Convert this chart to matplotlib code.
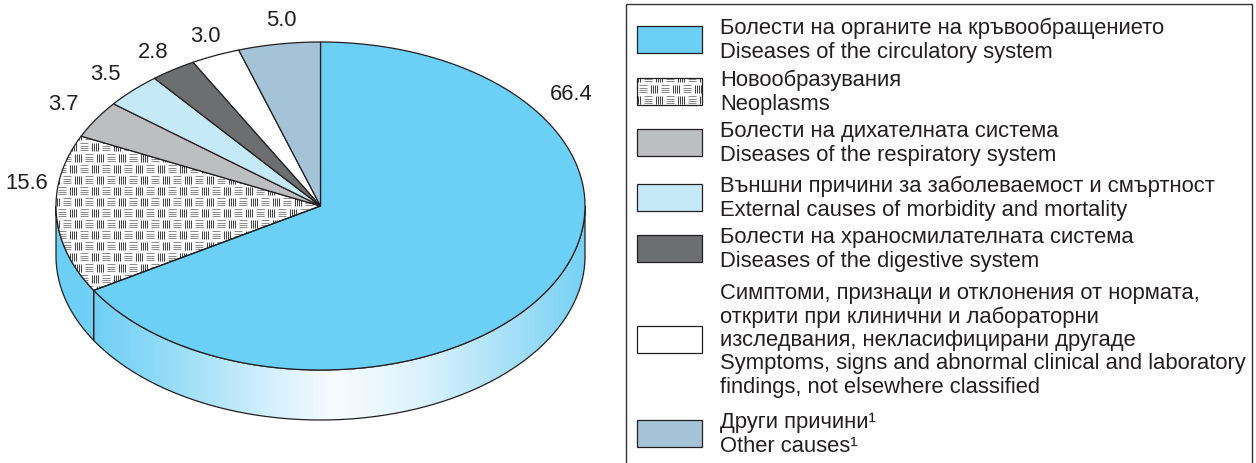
import numpy as np
import matplotlib
matplotlib.use('Agg')
import matplotlib.pyplot as plt
from matplotlib.patches import Polygon, Rectangle
from matplotlib.collections import LineCollection
from matplotlib.colors import LinearSegmentedColormap

# ---------------- data ----------------
values = [66.4, 15.6, 3.7, 3.5, 2.8, 3.0, 5.0]
value_labels = ['66.4', '15.6', '3.7', '3.5', '2.8', '3.0', '5.0']
legend_bg = [
    "Болести на органите на кръвообращението",
    "Новообразувания",
    "Болести на дихателната система",
    "Външни причини за заболеваемост и смъртност",
    "Болести на храносмилателната система",
    "Симптоми, признаци и отклонения от нормата,\nоткрити при клинични и лабораторни\nизследвания, некласифицирани другаде",
    "Други причини¹",
]
legend_en = [
    "Diseases of the circulatory system",
    "Neoplasms",
    "Diseases of the respiratory system",
    "External causes of morbidity and mortality",
    "Diseases of the digestive system",
    "Symptoms, signs and abnormal clinical and laboratory\nfindings, not elsewhere classified",
    "Other causes¹",
]
slice_colors = ['#6CCFF6', 'hatch', '#BCBEC0', '#C6E9F8', '#6D6E70', '#FFFFFF', '#A5C3D6']

# ---------------- layout / style ----------------
W, H = 1256, 464
CX, CY, RX, RY, DEPTH = 320.5, 207.0, 264.5, 164.0, 50.0
START = 90.0
EDGE = '#231F20'
TXT = '#231F20'
FONT = 'Liberation Sans'
FS = 15.8
label_pos = [(571, 95), (27, 184), (63, 104), (105, 74), (153, 52), (205, 37), (281, 21)]

fig = plt.figure(figsize=(W / 100, H / 100), dpi=100)
ax = fig.add_axes([0, 0, 1, 1])
ax.set_xlim(0, W)
ax.set_ylim(H, 0)
ax.axis('off')


def ell(t, dy=0.0):
    t = np.radians(t)
    return np.column_stack([CX + RX * np.cos(t), CY - RY * np.sin(t) + dy])


def hatch_fill(clip_patch, x0, y0, x1, y1, z, cell=11.0):
    hl, vl = [], []
    r = 0
    y = y0 - cell
    while y < y1 + cell:
        off = (r % 2) * cell / 2
        c = 0
        x = x0 - 2 * cell + off
        while x < x1 + cell:
            gx, gy = x + 1.5, y + 1.8
            if c % 2 == 0:
                for k in range(4):
                    yy = gy + 0.6 + k * 2.1
                    hl.append([(gx, yy), (gx + 8.0, yy)])
            else:
                for k in range(4):
                    xx = gx + 1.0 + k * 2.1
                    vl.append([(xx, gy), (xx, gy + 7.8)])
            x += cell
            c += 1
        y += cell
        r += 1
    lc1 = LineCollection(hl, colors='#8E8E8E', linewidths=0.75, zorder=z)
    lc2 = LineCollection(vl, colors='#454545', linewidths=0.75, zorder=z)
    for lc in (lc1, lc2):
        ax.add_collection(lc)
        lc.set_clip_path(clip_patch)


# slice angles (clockwise from the top)
cum = np.concatenate([[0], np.cumsum(values)])
total = cum[-1]
starts = START - 360.0 * cum[:-1] / total
ends = START - 360.0 * cum[1:] / total

# ---------------- side wall ----------------
side_stops = [(56, '#6CCFF6'), (93, '#70D0F6'), (150, '#8AD8F7'), (230, '#BCE8FA'),
              (335, '#F8FCFF'), (420, '#DDF2FC'), (500, '#ADE2F8'), (560, '#88D6F6'),
              (585, '#74D2F5')]
xs0, xs1 = CX - RX, CX + RX
cmap = LinearSegmentedColormap.from_list(
    'side', [((x - xs0) / (xs1 - xs0), c) for x, c in side_stops])

side_polys = []
for s, e in zip(starts, ends):
    for lo_f, hi_f in [(-180, 0), (180, 360), (-540, -360)]:
        lo, hi = max(e, lo_f), min(s, hi_f)
        if hi > lo:
            ts = np.linspace(lo, hi, 120)
            top = ell(ts)
            bot = ell(ts[::-1], DEPTH)
            side_polys.append(np.vstack([top, bot]))

grad = cmap(np.linspace(0, 1, 512))[None, :, :3]
for poly in side_polys:
    p = Polygon(poly, closed=True, facecolor='none', edgecolor='none', zorder=1)
    ax.add_patch(p)
    im = ax.imshow(grad, extent=(xs0, xs1, CY + RY + DEPTH, CY - RY), aspect='auto',
                   interpolation='bilinear', zorder=1)
    im.set_clip_path(p)
    ax.add_patch(Polygon(poly, closed=True, facecolor='none', edgecolor=EDGE,
                         linewidth=0.9, zorder=2))

# ---------------- top face ----------------
for i, (s, e) in enumerate(zip(starts, ends)):
    ts = np.linspace(s, e, max(8, int(abs(s - e) * 2)))
    poly = np.vstack([[CX, CY], ell(ts)])
    col = slice_colors[i]
    if col == 'hatch':
        p = Polygon(poly, closed=True, facecolor='white', edgecolor='none', zorder=2.5)
        ax.add_patch(p)
        hatch_fill(p, CX - RX, CY - RY, CX + RX, CY + RY, 3)
        ax.add_patch(Polygon(poly, closed=True, facecolor='none', edgecolor=EDGE,
                             linewidth=0.9, zorder=4))
    else:
        ax.add_patch(Polygon(poly, closed=True, facecolor=col, edgecolor=EDGE,
                             linewidth=0.9, zorder=4))

for (x, y), lab in zip(label_pos, value_labels):
    ax.text(x, y, lab, ha='center', va='center', fontsize=FS, family=FONT, color=TXT)

# ---------------- legend ----------------
ax.add_patch(Rectangle((626, 5), 1252 - 626, 480, facecolor='none', edgecolor='#333333',
                       linewidth=1.0, zorder=5))
sw_tops = [27, 79, 130, 185, 236, 327, 421]
SW_X, SW_W, SW_H = 637, 65, 27
TX = 720
PITCH = 23.5
for i in range(len(values)):
    ty = sw_tops[i]
    col = slice_colors[i]
    if col == 'hatch':
        rp = Rectangle((SW_X, ty), SW_W, SW_H, facecolor='white', edgecolor='none', zorder=5)
        ax.add_patch(rp)
        hatch_fill(rp, SW_X, ty - 6, SW_X + SW_W, ty + SW_H, 5.5)
        ax.add_patch(Rectangle((SW_X, ty), SW_W, SW_H, facecolor='none', edgecolor=EDGE,
                               linewidth=0.9, zorder=6))
    else:
        ax.add_patch(Rectangle((SW_X, ty), SW_W, SW_H, facecolor=col, edgecolor=EDGE,
                               linewidth=0.9, zorder=6))
    lines = legend_bg[i].split('\n') + legend_en[i].split('\n')
    n = len(lines)
    yc = ty + SW_H / 2
    for k, ln in enumerate(lines):
        y = yc + (k - (n - 1) / 2) * PITCH
        ax.text(TX, y, ln, ha='left', va='center', fontsize=FS, family=FONT, color=TXT)

fig.savefig('out.png', dpi=100)
